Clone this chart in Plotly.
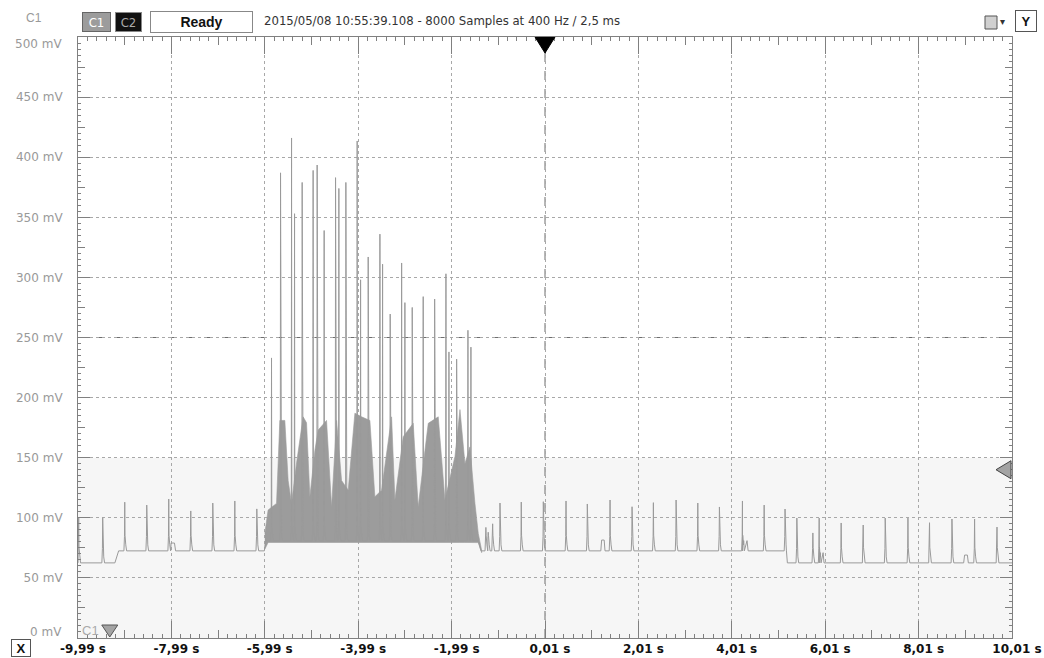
import numpy as np
import plotly.graph_objects as go

# ---------------- data ----------------
X_TICKS = [-9.99, -7.99, -5.99, -3.99, -1.99, 0.01, 2.01, 4.01, 6.01, 8.01, 10.01]
X_TICK_LABELS = ["-9,99 s", "-7,99 s", "-5,99 s", "-3,99 s", "-1,99 s", "0,01 s",
                 "2,01 s", "4,01 s", "6,01 s", "8,01 s", "10,01 s"]
X_MID_TICKS = [-8.99, -6.99, -4.99, -2.99, -0.99, 1.01, 3.01, 5.01, 7.01, 9.01]
X_MINOR_STEP = 0.2
Y_TICKS = [50, 100, 150, 200, 250, 300, 350, 400, 450]
Y_TICK_LABELS = ["50 mV", "100 mV", "150 mV", "200 mV", "250 mV", "300 mV",
                 "350 mV", "400 mV", "450 mV"]
Y_MID_TICKS = [25, 75, 125, 175, 225, 275, 325, 375, 425, 475]
Y_MINOR_STEP = 5

# baseline level (mV) knots over time (s)
BASE_T = [-9.99, -9.20, -9.12, -6.00, -5.97, -1.42, -1.36, 5.18, 5.20, 10.01]
BASE_MV = [62.5, 62.5, 72.5, 72.5, 81.0, 81.0, 72.5, 72.5, 62.5, 62.5]

# spikes: time (s) and peak (mV)
SPIKE_T = [-9.975, -9.461, -8.989, -8.518, -8.047, -7.575, -7.104, -6.632, -6.161,
           -5.846, -5.653, -5.417, -5.353, -5.190, -4.955, -4.869, -4.719, -4.475,
           -4.404, -4.254, -4.012, -3.939, -3.776, -3.525, -3.468, -3.305, -3.060,
           -2.990, -2.833, -2.598, -2.353, -2.111, -2.047, -1.882, -1.640, -1.576,
           -1.256, -1.206, -1.111,
           -0.954, -0.498, -0.026, 0.460, 0.916, 1.403, 1.874, 2.331, 2.817, 3.282,
           3.745, 4.238, 4.703, 5.150, 5.403, 5.746, 5.881, 6.352, 6.824, 7.295,
           7.782, 8.244, 8.724, 9.209, 9.689]
SPIKE_MV = [100, 100, 113, 110.6, 115.6, 105.7, 112.3, 114, 107.4,
            233, 387, 416, 353, 379, 389, 393.5, 339, 383,
            374, 379, 413.5, 298, 317, 336, 311, 269.5, 312,
            279, 275, 284, 282, 303, 238, 232, 256, 242,
            92, 88, 95,
            112.3, 113.1, 113.4, 114, 111.5, 114.8, 109.2, 112.6, 114.8, 112.3,
            109, 114, 110.6, 107.3, 99.8, 87.4, 99.8, 95.7, 94, 99.8,
            99.8, 95.9, 99, 99, 92.3]

# small humps after some spikes: centre (s), width (s), level (mV)
BUMP_T = [-7.96, 1.25, 4.30, 5.935, 9.025]
BUMP_W = [0.12, 0.09, 0.12, 0.10, 0.10]
BUMP_MV = [79, 81.5, 81, 71, 69]

# dense burst region: upper envelope (s, mV)
BURST_T = [-5.99, -5.919, -5.739, -5.668, -5.561, -5.490, -5.418, -5.310, -5.169,
           -5.096, -5.025, -4.918, -4.847, -4.668, -4.560, -4.453, -4.346, -4.204,
           -4.061, -3.918, -3.740, -3.633, -3.489, -3.275, -3.204, -3.026, -2.812,
           -2.705, -2.561, -2.490, -2.276, -2.133, -1.918, -1.811, -1.704, -1.597,
           -1.490, -1.419, -1.347]
BURST_MV = [87, 106.5, 112, 181, 181, 131, 112, 145.6, 184,
            179, 117.5, 156, 173, 181, 109, 181, 131, 123,
            187, 184, 181, 117.5, 123, 184, 115, 167.5, 178.6,
            109, 156, 178.6, 184, 115, 151, 190, 145, 159,
            112, 87, 73]

TRIGGER_TIME = 0.01
TRIGGER_LEVEL = 140
CENTER_LEVEL = 250
BAND_TOP = 150
GROUND_MARK_T = -9.31
X_RANGE = [-9.99, 10.01]
Y_RANGE = [0, 500]

# ---------------- styles ----------------
TRACE = "#9a9a9a"
AX = "#808080"
GRID = "#a8a8a8"
LABEL_GREY = "#999999"
SPIKE_OFF = [-0.018, -0.006, 0.0, 0.006, 0.022, 0.04]
SPIKE_ADD = [0, 12, None, 13, 5, 0]
BUMP_OFF = [-0.5, -0.3, 0.3, 0.5]
BUMP_FR = [0, 1, 1, 0]


def base_at(t):
    return float(np.interp(t, BASE_T, BASE_MV))


pts = list(zip(BASE_T, BASE_MV))
for t, p in zip(SPIKE_T, SPIKE_MV):
    for off, add in zip(SPIKE_OFF, SPIKE_ADD):
        if add is None:
            pts.append((t, p))
        else:
            tt = t + off
            pts.append((tt, base_at(tt) + add))
for t, w, lv in zip(BUMP_T, BUMP_W, BUMP_MV):
    for off, fr in zip(BUMP_OFF, BUMP_FR):
        tt = t + off * w
        b = base_at(tt)
        pts.append((tt, b + (lv - b) * fr))
pts = [p for p in pts if X_RANGE[0] <= p[0] <= X_RANGE[1]]
pts.sort(key=lambda p: p[0])
tx = [p[0] for p in pts]
ty = [p[1] for p in pts]

floor = [base_at(t) - 1.5 for t in BURST_T]
bx = BURST_T + BURST_T[::-1]
by = BURST_MV + floor[::-1]

fig = go.Figure()
fig.add_trace(go.Scatter(x=bx, y=by, mode="lines", fill="toself", fillcolor="#9c9c9c",
                         line=dict(color="#9c9c9c", width=0.6), hoverinfo="skip",
                         showlegend=False))
fig.add_trace(go.Scatter(x=tx, y=ty, mode="lines", line=dict(color=TRACE, width=1),
                         hoverinfo="skip", showlegend=False))
# invisible traces hosting the extra tick-level axes
for xa, ya in (("x2", "y2"), ("x3", "y3")):
    fig.add_trace(go.Scatter(x=[X_RANGE[0]], y=[Y_RANGE[0]], xaxis=xa, yaxis=ya,
                             mode="markers", marker=dict(opacity=0), hoverinfo="skip",
                             showlegend=False))

W, H = 1044, 658
L, R, T, B = 78, 32, 37, 20
PW, PH = W - L - R, H - T - B


def px(x):  # reference pixel x -> paper
    return (x - L) / PW


def py(y):  # reference pixel y -> paper
    return (H - B - y) / PH


tickfont_x = dict(family="DejaVu Sans, Verdana, sans-serif", size=12, color="#111", weight="bold")
tickfont_y = dict(family="DejaVu Sans, Verdana, sans-serif", size=12, color=LABEL_GREY)


def tick_axis(rng, overlay, anchor, side, **kw):
    d = dict(range=rng, overlaying=overlay, anchor=anchor, side=side, ticks="inside",
             tickcolor=AX, tickwidth=1, showticklabels=False, showgrid=False,
             showline=False, zeroline=False, mirror="ticks", fixedrange=True,
             automargin=False)
    d.update(kw)
    return d


fig.update_layout(
    width=W, height=H, margin=dict(l=L, r=R, t=T, b=B, autoexpand=False),
    paper_bgcolor="white", plot_bgcolor="white", showlegend=False,
    xaxis=dict(range=X_RANGE, tickmode="array", tickvals=X_TICKS, ticktext=X_TICK_LABELS,
               ticks="inside", ticklen=17, tickcolor=AX, tickwidth=1,
               showline=True, linecolor=AX, linewidth=1, mirror="ticks",
               showgrid=True, gridcolor=GRID, griddash="dot", gridwidth=1,
               zeroline=False, tickfont=tickfont_x, ticklabelshift=5, ticklabelstandoff=0,
               fixedrange=True, automargin=False),
    xaxis2=tick_axis(X_RANGE, "x", "y", "bottom", tickmode="array",
                     tickvals=X_MID_TICKS, ticklen=8),
    xaxis3=tick_axis(X_RANGE, "x", "y", "bottom", tickmode="linear",
                     tick0=X_RANGE[0], dtick=X_MINOR_STEP, ticklen=4),
    yaxis=dict(range=Y_RANGE, tickmode="array", tickvals=Y_TICKS, ticktext=Y_TICK_LABELS,
               ticks="inside", ticklen=12, tickcolor=AX, tickwidth=1,
               showline=True, linecolor=AX, linewidth=1, mirror="ticks",
               showgrid=True, gridcolor=GRID, griddash="dot", gridwidth=1,
               zeroline=False, tickfont=tickfont_y, ticklabelstandoff=12,
               fixedrange=True, automargin=False),
    yaxis2=tick_axis(Y_RANGE, "y", "x", "left", tickmode="array",
                     tickvals=Y_MID_TICKS, ticklen=7),
    yaxis3=tick_axis(Y_RANGE, "y", "x", "left", tickmode="linear",
                     tick0=Y_RANGE[0], dtick=Y_MINOR_STEP, ticklen=3),
)

shapes = [
    dict(type="rect", xref="paper", yref="y", x0=0, x1=1, y0=0, y1=BAND_TOP,
         fillcolor="#f6f6f6", line=dict(width=0), layer="below"),
    dict(type="line", xref="paper", yref="y", x0=0, x1=1, y0=CENTER_LEVEL, y1=CENTER_LEVEL,
         line=dict(color="#6e6e6e", width=1, dash="dash"), layer="between"),
    dict(type="line", xref="x", yref="paper", x0=TRIGGER_TIME, x1=TRIGGER_TIME, y0=0, y1=1,
         line=dict(color="#6e6e6e", width=1, dash="dash"), layer="between"),
    # trigger time marker
    dict(type="path", xref="x", yref="y", xsizemode="pixel", ysizemode="pixel",
         xanchor=TRIGGER_TIME, yanchor=Y_RANGE[1], path="M-10,0 L10,0 L0,-16 Z",
         fillcolor="black", line=dict(color="black", width=1), layer="above"),
    # trigger level marker
    dict(type="path", xref="x", yref="y", xsizemode="pixel", ysizemode="pixel",
         xanchor=X_RANGE[1], yanchor=TRIGGER_LEVEL, path="M-1,9 L-1,-9 L-16,0 Z",
         fillcolor="#a4a4a4", line=dict(color="#444", width=1), layer="above"),
    # channel ground marker
    dict(type="path", xref="x", yref="y", xsizemode="pixel", ysizemode="pixel",
         xanchor=GROUND_MARK_T, yanchor=Y_RANGE[0], path="M-8,13 L8,13 L0,1 Z",
         fillcolor="#a4a4a4", line=dict(color="#555", width=1), layer="above"),
    # small toolbar icon
    dict(type="rect", xref="paper", yref="paper", x0=px(985), x1=px(997), y0=py(29), y1=py(16),
         fillcolor="#d0d0d0", line=dict(color="#555", width=1)),
]
fig.update_layout(shapes=shapes)

hdr = "Liberation Sans Narrow, DejaVu Sans Condensed, Arial Narrow, sans-serif"
ann = [
    dict(text="C1", x=px(34), y=py(18), font=dict(family="Liberation Sans, Arial", size=12, color=LABEL_GREY)),
    dict(text="C1", x=px(96.5), y=py(22), width=25, height=16, bgcolor="#9c9c9c",
         bordercolor="#666", borderwidth=1, borderpad=1,
         font=dict(family=hdr, size=13, color="white")),
    dict(text="C2", x=px(128.5), y=py(22), width=23, height=16, bgcolor="#111",
         bordercolor="#888", borderwidth=1, borderpad=1,
         font=dict(family=hdr, size=13, color="#aaa")),
    dict(text="Ready", x=px(201.5), y=py(22), width=97, height=16, bgcolor="white",
         bordercolor="#888", borderwidth=1, borderpad=2,
         font=dict(family="Liberation Sans, Arial", size=14, color="#111", weight="bold")),
    dict(text="2015/05/08 10:55:39.108 - 8000 Samples at 400 Hz / 2,5 ms", x=px(262), y=py(20),
         xanchor="left", font=dict(family=hdr, size=13, color="#333")),
    dict(text="▾", x=px(1002), y=py(21), font=dict(family="DejaVu Sans", size=10, color="#333")),
    dict(text="Y", x=px(1026), y=py(21), width=16, height=16, bgcolor="white",
         bordercolor="#555", borderwidth=1, borderpad=2,
         font=dict(family="Liberation Sans, Arial", size=13, color="#111", weight="bold")),
    dict(text="X", x=px(21), y=py(648), width=16, height=14, bgcolor="white",
         bordercolor="#555", borderwidth=1, borderpad=1,
         font=dict(family="Liberation Sans, Arial", size=13, color="#111", weight="bold")),
    dict(text="0 mV", x=px(64), y=py(632), xanchor="right", font=tickfont_y),
    dict(text="500 mV", x=px(64), y=py(44), xanchor="right", font=tickfont_y),
    dict(text="C1", x=px(80), y=py(630), xanchor="left",
         font=dict(family="Liberation Sans, Arial", size=13, color="#aaaaaa")),
]
for a in ann:
    a.update(xref="paper", yref="paper", showarrow=False)
    a.setdefault("xanchor", "center")
    a.setdefault("yanchor", "middle")
fig.update_layout(annotations=ann)

fig.write_html("out.html", config={"displayModeBar": False},
               post_script="document.body.style.margin='0';")
